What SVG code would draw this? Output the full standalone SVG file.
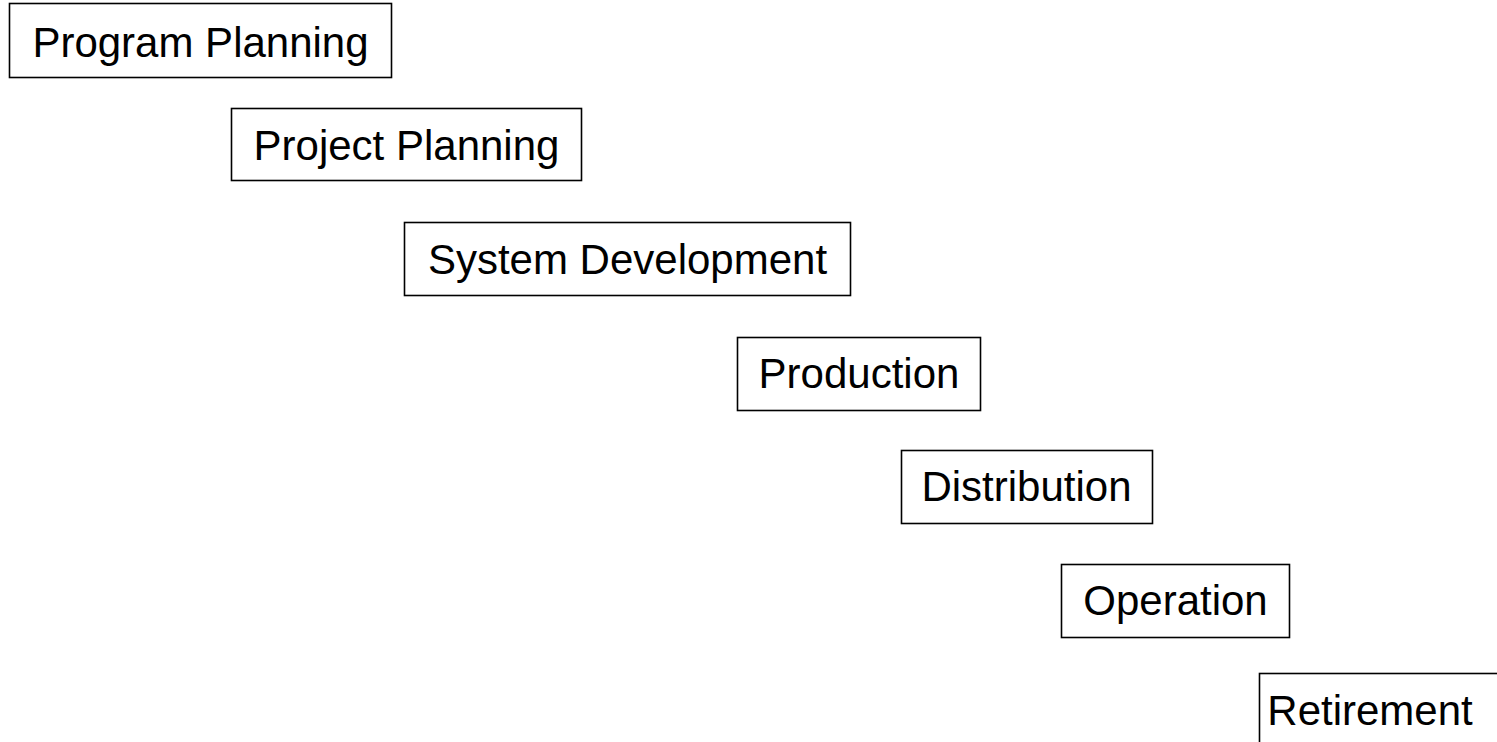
<svg xmlns="http://www.w3.org/2000/svg" width="1497" height="742" viewBox="0 0 1497 742">
<style>
rect{fill:#fff;stroke:#000;stroke-width:1.6}
text{font-family:"Liberation Sans",Arial,sans-serif;font-size:42px;fill:#000;text-anchor:middle}
</style>
<rect x="0" y="0" width="1497" height="742" style="stroke:none"/>
<g id="n1"><rect x="9.5" y="3.5" width="382" height="74"/><text x="200.5" y="57">Program Planning</text></g>
<g id="n2"><rect x="231.5" y="108.5" width="350" height="72"/><text x="406.5" y="160">Project Planning</text></g>
<g id="n3"><rect x="404.5" y="222.5" width="446" height="73"/><text x="627.5" y="274">System Development</text></g>
<g id="n4"><rect x="737.5" y="337.5" width="243" height="73"/><text x="859" y="388">Production</text></g>
<g id="n5"><rect x="901.5" y="450.5" width="251" height="73"/><text x="1026.5" y="501">Distribution</text></g>
<g id="n6"><rect x="1061.5" y="564.5" width="228" height="73"/><text x="1175.5" y="615">Operation</text></g>
<g id="n7"><rect x="1259.5" y="673.5" width="260" height="80"/><text x="1370" y="725">Retirement</text></g>
<g id="connectors"></g>
</svg>
